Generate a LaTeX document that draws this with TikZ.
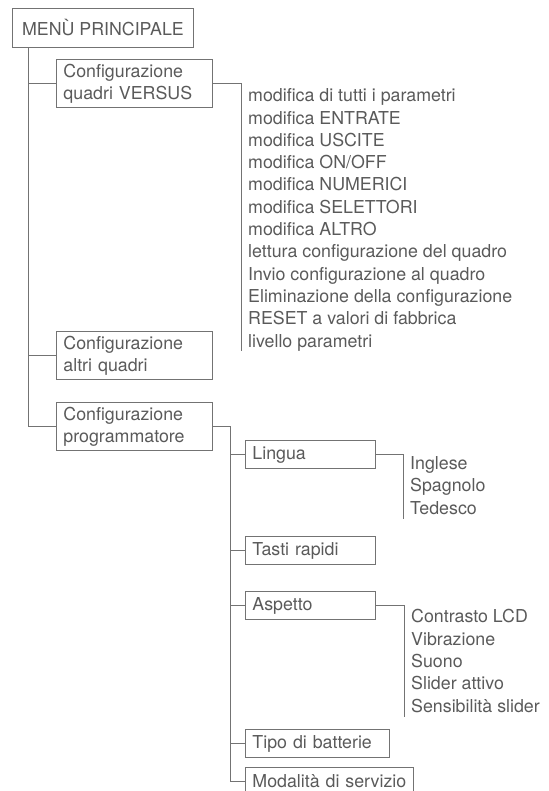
\documentclass[tikz,border=0pt]{standalone}
\usepackage{fontspec}
\setmainfont{TeX Gyre Heros}
\usepackage{xcolor}
\usetikzlibrary{positioning}
\definecolor{linegray}{RGB}{115,115,115}
\definecolor{textgray}{RGB}{90,90,90}

\begin{document}
\begin{tikzpicture}[
    x=1pt, y=-1pt,
    every node/.style={font=\fontsize{17.8}{22.3}\selectfont, text=textgray},
    box/.style={rectangle, draw=linegray, line width=0.9pt, anchor=north west,
                text width=#1, align=left, inner xsep=7pt, inner ysep=2pt},
    box/.default=142pt,
    twoline/.style={minimum height=48pt},
    oneline/.style={minimum height=28pt},
    itemlist/.style={anchor=north west, align=left, inner xsep=7pt, inner ysep=0pt},
    link/.style={draw=linegray, line width=0.9pt},
  ]
    \path[use as bounding box, clip] (0,0) rectangle (548,791);

    \node[rectangle, draw=linegray, line width=0.9pt, anchor=north west,
          minimum width=181pt, minimum height=39pt] (menu) at (12,8) {MENÙ PRINCIPALE};

    \node[box, twoline] (versus) at (56,59)  {Configurazione\\quadri VERSUS};
    \node[box, twoline] (altri)  at (56,331) {Configurazione\\altri quadri};
    \node[box, twoline] (prog)   at (56,402) {Configurazione\\programmatore};

    \node[box=116pt, oneline] (lingua)   at (245,440) {Lingua};
    \node[box=116pt, oneline] (tasti)    at (245,536) {Tasti rapidi};
    \node[box=116pt, oneline] (aspetto)  at (245,591) {Aspetto};
    \node[box=130pt, oneline] (batterie) at (245,729) {Tipo di batterie};
    \node[box=154pt, oneline] (servizio) at (245,767) {Modalità di servizio};

    \node[itemlist] (versuslist) at (241,88.5) {modifica di tutti i parametri\\
      modifica ENTRATE\\modifica USCITE\\modifica ON/OFF\\modifica NUMERICI\\
      modifica SELETTORI\\modifica ALTRO\\lettura configurazione del quadro\\
      Invio configurazione al quadro\\Eliminazione della configurazione\\
      RESET a valori di fabbrica\\livello parametri};
    \node[itemlist] (lingualist) at (403,456.5) {Inglese\\Spagnolo\\Tedesco};
    \node[itemlist] (aspettolist) at (404,609.4) {Contrasto LCD\\Vibrazione\\
      Suono\\Slider attivo\\Sensibilità slider};

    \coordinate (trunk) at ([xshift=16pt]menu.south west);
    \draw[link] (trunk) |- (versus.west);
    \draw[link] (trunk) |- (altri.west);
    \draw[link] (trunk) |- (prog.west);
    \draw[link] (versus.east) -| (versuslist.south west);

    \coordinate (progtrunk) at ([xshift=18pt]prog.east);
    \draw[link] (prog.east) -- (progtrunk) |- (servizio.west);
    \foreach \sub in {lingua, tasti, aspetto, batterie}
      \draw[link] (progtrunk) |- (\sub.west);
    \draw[link] (lingua.east) -| ([yshift=-4pt]lingualist.south west);
    \draw[link] (aspetto.east) -| ([yshift=-4pt]aspettolist.south west);
  \end{tikzpicture}
\end{document}
